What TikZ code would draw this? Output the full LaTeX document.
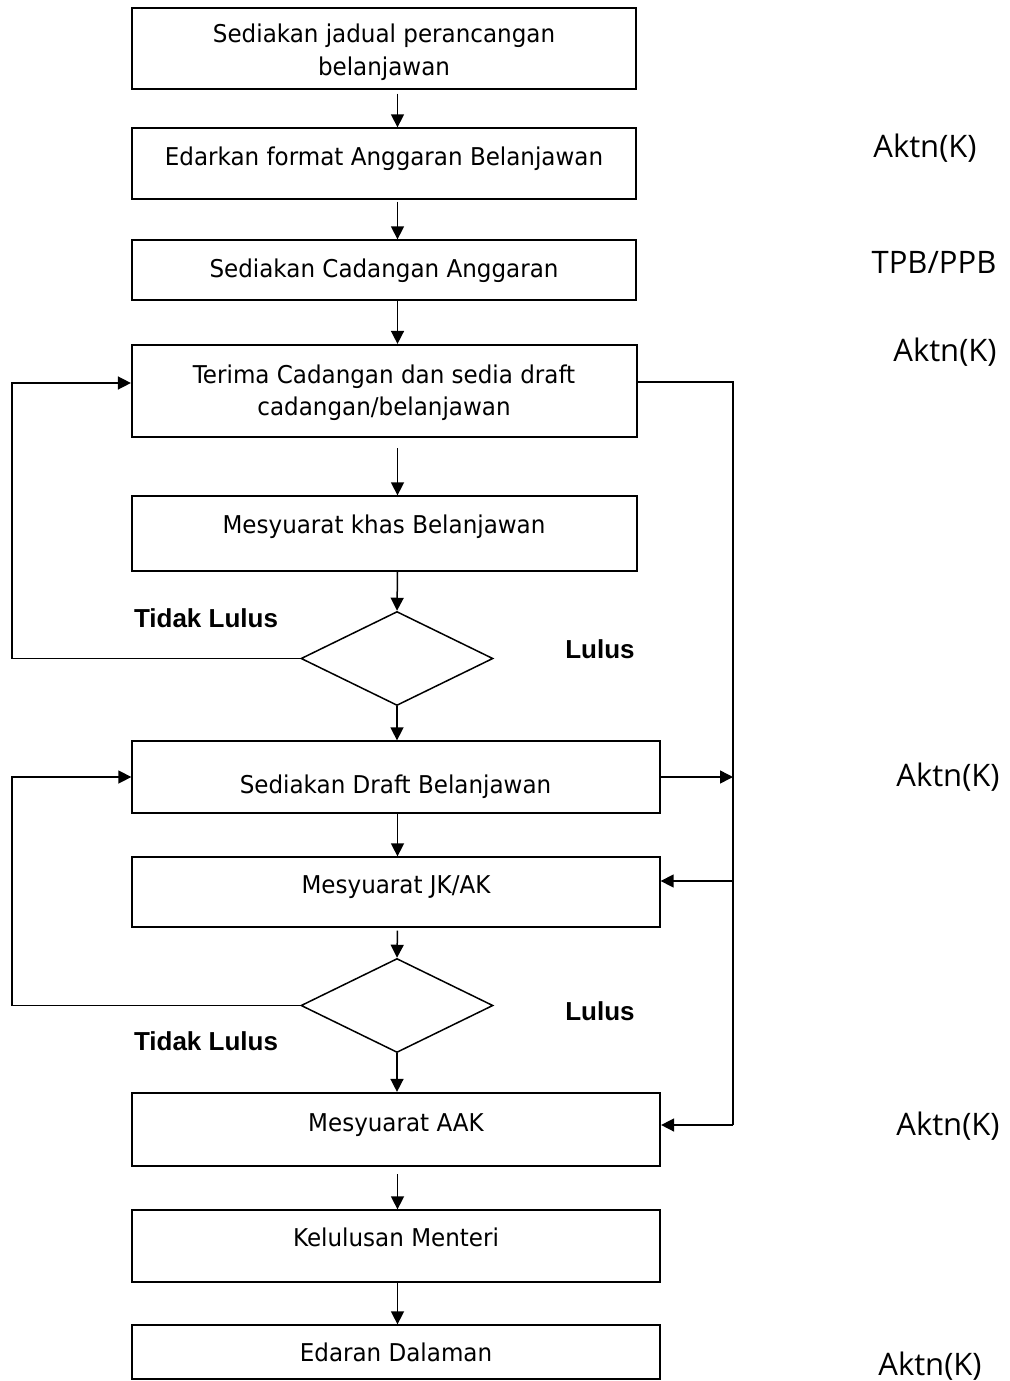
\documentclass[tikz,border=0pt]{standalone}
\usepackage{fontspec}
\setmainfont{DejaVu Sans}[FakeStretch=0.94]
\newfontfamily\labfont{Open Sans}
\newfontfamily\bldfont{Liberation Sans}
\usetikzlibrary{arrows.meta,shapes.geometric}
\begin{document}
\begin{tikzpicture}[x=1pt,y=-1pt,
  line/.style={line width=1.5pt},
  arr/.style={line width=1.5pt,-{Triangle[length=13pt,width=13pt]}},
  box/.style={draw,line width=1.3pt,rectangle,inner sep=0pt},
  thickbox/.style={box,line width=2.2pt},
  dia/.style={draw,line width=1.5pt,diamond,inner sep=0pt,minimum width=192pt,minimum height=94pt},
  txt/.style={inner sep=0pt,anchor=base,font=\fontsize{24.5}{32.5}\selectfont},
  txt2/.style={inner sep=0pt,anchor=center,align=center,font=\fontsize{24.5}{32.5}\selectfont},
  side/.style={inner sep=0pt,anchor=base,font=\labfont\fontsize{31}{36}\selectfont},
  dec/.style={inner sep=0pt,anchor=base,font=\bldfont\bfseries\fontsize{26}{30}\selectfont}]
\useasboundingbox (0,0) rectangle (1009,1381);
% boxes
\node[box,minimum width=504pt,minimum height=81pt] (b1) at (384,48.5) {};
\node[box,minimum width=504pt,minimum height=71pt] (b2) at (384,163.5) {};
\node[box,minimum width=504pt,minimum height=60pt] (b3) at (384,270) {};
\node[thickbox,minimum width=505pt,minimum height=92pt] (b4) at (384.5,391) {};
\node[box,minimum width=505pt,minimum height=75pt] (b5) at (384.5,533.5) {};
\node[dia] (d1) at (397,658.5) {};
\node[box,minimum width=528pt,minimum height=72pt] (b6) at (396,777) {};
\node[box,minimum width=528pt,minimum height=70pt] (b7) at (396,892) {};
\node[dia] (d2) at (397,1005.5) {};
\node[thickbox,minimum width=528pt,minimum height=73pt] (b8) at (396,1129.5) {};
\node[box,minimum width=528pt,minimum height=72pt] (b9) at (396,1246) {};
\node[box,minimum width=528pt,minimum height=54pt] (b10) at (396,1352) {};
% texts
\node[txt2] (t1) at (384,52) {Sediakan jadual perancangan\\belanjawan};
\node[txt] (t2) at (384,165) {Edarkan format Anggaran Belanjawan};
\node[txt] (t3) at (384,277) {Sediakan Cadangan Anggaran};
\node[txt2] (t4) at (384,392.5) {Terima Cadangan dan sedia draft\\cadangan/belanjawan};
\node[txt] (t5) at (384,533) {Mesyuarat khas Belanjawan};
\node[txt] (t6) at (395.5,793) {Sediakan Draft Belanjawan};
\node[txt] (t7) at (396,893) {Mesyuarat JK/AK};
\node[txt] (t8) at (396,1131) {Mesyuarat AAK};
\node[txt] (t9) at (396,1246) {Kelulusan Menteri};
\node[txt] (t10) at (396,1361) {Edaran Dalaman};
\node[dec] (n1) at (206,627.3) {Tidak Lulus};
\node[dec] (y1) at (600,658.3) {Lulus};
\node[dec] (y2) at (600,1020.3) {Lulus};
\node[dec] (n2) at (206,1050.3) {Tidak Lulus};
\node[side] (s1) at (925,157) {Aktn(K)};
\node[side] (s2) at (934,273) {TPB/PPB};
\node[side] (s3) at (945,361) {Aktn(K)};
\node[side] (s4) at (948,786) {Aktn(K)};
\node[side] (s5) at (948,1135) {Aktn(K)};
\node[side] (s6) at (930,1375) {Aktn(K)};
% coordinates
\coordinate (ax) at (397.5,0);
\coordinate (R1) at (733,382);
\coordinate (R2) at (733,777);
\coordinate (R3) at (733,881);
\coordinate (R4) at (733,1125);
\coordinate (L1a) at (12,658.5);
\coordinate (L1b) at (12,383);
\coordinate (L2a) at (12,1005.5);
\coordinate (L2b) at (12,777);
% vertical flow
\draw[arr,shorten <=4pt] (b1.south -| ax) -- (b2.north -| ax);
\draw[arr,shorten <=2pt] (b2.south -| ax) -- (b3.north -| ax);
\draw[arr] (b3.south -| ax) -- (b4.north -| ax);
\draw[arr,shorten <=10pt] (b4.south -| ax) -- (b5.north -| ax);
\draw[arr] (b5.south -| ax) -- (d1.north);
\draw[arr] (d1.south) -- (b6.north -| d1.south);
\draw[arr] (b6.south -| ax) -- (b7.north -| ax);
\draw[arr,shorten <=3pt] (b7.south -| ax) -- (d2.north);
\draw[arr] (d2.south) -- (b8.north -| d2.south);
\draw[arr,shorten <=7pt] (b8.south -| ax) -- (b9.north -| ax);
\draw[arr] (b9.south -| ax) -- (b10.north -| ax);
% left loops
\draw[arr] (d1.west) -- (L1a) -- (L1b) -- (b4.west |- L1b);
\draw[arr] (d2.west) -- (L2a) -- (L2b) -- (b6.west |- L2b);
% right trunk
\draw[line] (b4.east |- R1) -- (R1) -- (R4);
\draw[arr] (b6.east |- R2) -- (R2);
\draw[arr] (R3) -- (b7.east |- R3);
\draw[arr] (R4) -- (b8.east |- R4);
\end{tikzpicture}
\end{document}
